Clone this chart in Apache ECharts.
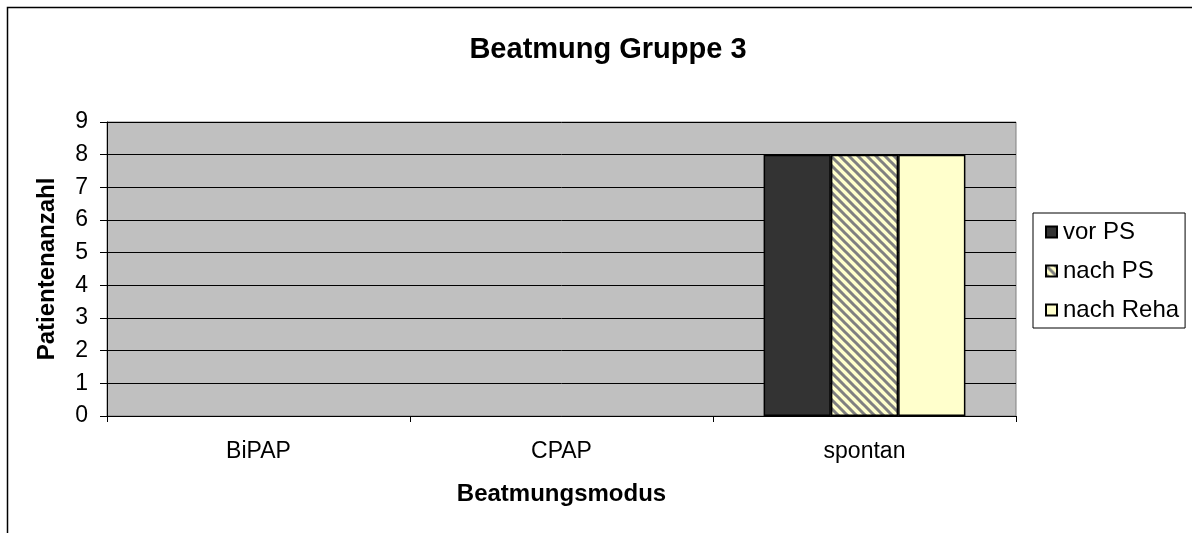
<!DOCTYPE html>
<html>
<head>
<meta charset="utf-8">
<script src="https://cdn.jsdelivr.net/npm/echarts@6/dist/echarts.min.js"></script>
<style>
  html, body { margin: 0; padding: 0; background: #fff; }
  #chart { width: 1192px; height: 533px; }
</style>
</head>
<body>
<div id="chart"></div>
<script>
// Daten
var categories = ['BiPAP', 'CPAP', 'spontan'];
var seriesNames = ['vor PS', 'nach PS', 'nach Reha'];
var vorPS = [0, 0, 8];
var nachPS = [0, 0, 8];
var nachReha = [0, 0, 8];

// schraffur fuer "nach PS"
function makeHatch() {
    var p = 9;
    var c = document.createElement('canvas');
    c.width = p;
    c.height = p;
    var ctx = c.getContext('2d');
    ctx.fillStyle = '#FFFFCC';
    ctx.fillRect(0, 0, p, p);
    ctx.strokeStyle = '#808080';
    ctx.lineWidth = 3;
    ctx.beginPath();
    for (var k = -1; k <= 1; k++) {
        ctx.moveTo(k * p - 2, -2);
        ctx.lineTo(k * p + p + 2, p + 2);
    }
    ctx.stroke();
    return c;
}
var hatch = { image: makeHatch(), repeat: 'repeat' };

// nullwerte ohne rahmen
function toItems(arr) {
    return arr.map(function (v) {
        return v === 0 ? { value: v, itemStyle: { borderWidth: 0 } } : v;
    });
}

var myChart = echarts.init(document.getElementById('chart'));
var font = '"Liberation Sans", Arial, sans-serif';

myChart.setOption({
    animation: false,
    backgroundColor: '#fff',
    textStyle: { fontFamily: font },
    title: {
        text: 'Beatmung Gruppe 3',
        left: 603,
        textAlign: 'center',
        top: 30,
        textStyle: { fontSize: 29, fontWeight: 'bold', color: '#000', fontFamily: font }
    },
    graphic: [
        {
            type: 'rect',
            shape: { x: 7.5, y: 7.5, width: 1400, height: 800 },
            style: { fill: null, stroke: '#000', lineWidth: 1.5 },
            silent: true,
            z: -1
        }
    ],
    legend: {
        orient: 'vertical',
        left: 1033,
        top: 213,
        padding: [7, 6, 6, 12],
        itemGap: 15,
        itemWidth: 11,
        itemHeight: 11,
        borderColor: '#000',
        borderWidth: 1,
        icon: 'rect',
        textStyle: { fontSize: 24, color: '#000', fontFamily: font, padding: [0, 0, 0, 1] },
        data: seriesNames
    },
    grid: {
        left: 107,
        right: 176,
        top: 122,
        bottom: 117,
        show: true,
        backgroundColor: '#C0C0C0',
        borderColor: '#808080',
        borderWidth: 1
    },
    xAxis: {
        type: 'category',
        data: categories,
        name: 'Beatmungsmodus',
        nameLocation: 'middle',
        nameGap: 66,
        nameTextStyle: { fontSize: 24, fontWeight: 'bold', color: '#000' },
        axisLine: { lineStyle: { color: '#000' } },
        axisTick: { show: true, length: 6, lineStyle: { color: '#000' } },
        axisLabel: { fontSize: 23, color: '#000', margin: 24 }
    },
    yAxis: {
        type: 'value',
        min: 0,
        max: 9,
        interval: 1,
        name: 'Patientenanzahl',
        nameLocation: 'middle',
        nameGap: 48,
        nameTextStyle: { fontSize: 24, fontWeight: 'bold', color: '#000' },
        axisLine: { show: true, lineStyle: { color: '#000' } },
        axisTick: { show: true, length: 7, lineStyle: { color: '#000' } },
        axisLabel: { fontSize: 23, color: '#000', margin: 19 },
        splitLine: { show: true, lineStyle: { color: '#000', width: 1 } }
    },
    series: [
        {
            name: seriesNames[0],
            type: 'bar',
            data: toItems(vorPS),
            barGap: '0%',
            barCategoryGap: '33.4%',
            itemStyle: { color: '#333333', borderColor: '#000', borderWidth: 1.5 }
        },
        {
            name: seriesNames[1],
            type: 'bar',
            data: toItems(nachPS),
            itemStyle: { color: hatch, borderColor: '#000', borderWidth: 1.5 }
        },
        {
            name: seriesNames[2],
            type: 'bar',
            data: toItems(nachReha),
            itemStyle: { color: '#FFFFCC', borderColor: '#000', borderWidth: 1.5 }
        }
    ]
});
</script>
</body>
</html>
